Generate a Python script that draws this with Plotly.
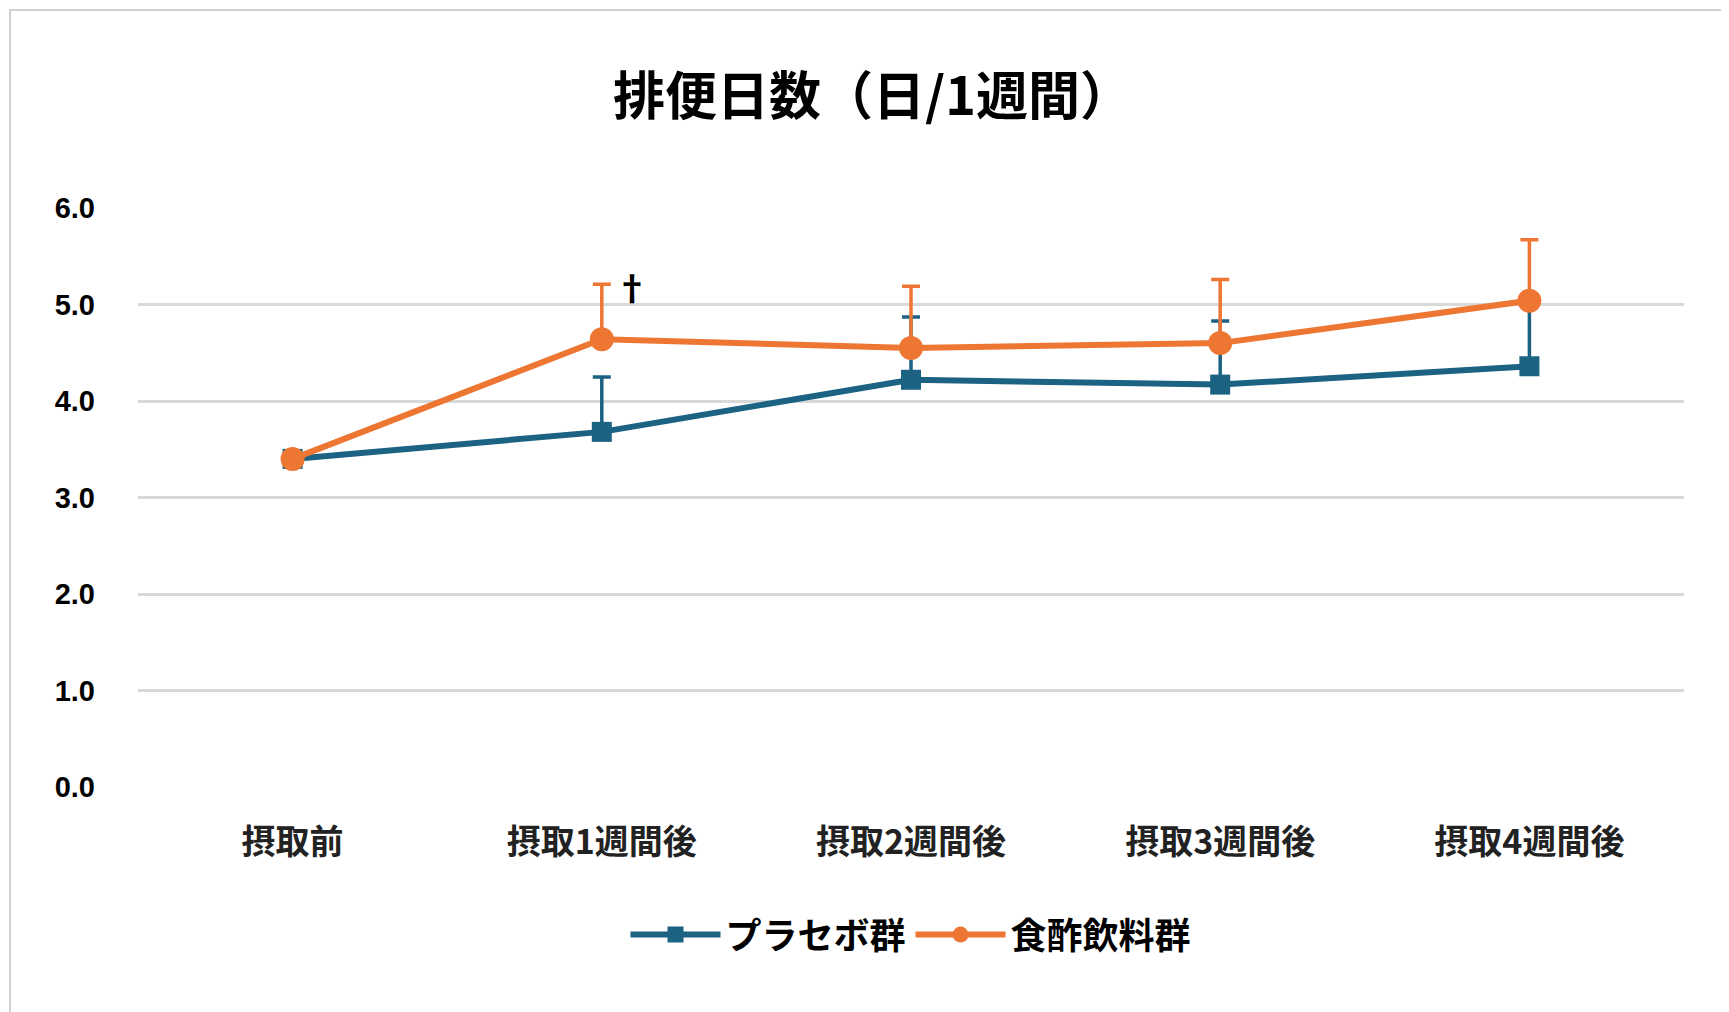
import plotly.graph_objects as go

categories = ["摂取前", "摂取1週間後", "摂取2週間後", "摂取3週間後", "摂取4週間後"]
placebo = [3.40, 3.68, 4.22, 4.17, 4.36]
placebo_err = [0.0, 0.57, 0.65, 0.66, 0.62]
vinegar = [3.40, 4.64, 4.55, 4.60, 5.04]
vinegar_err = [0.0, 0.57, 0.64, 0.66, 0.63]
yticks = [0, 1, 2, 3, 4, 5, 6]

F = "Noto Sans CJK JP"
blue = "#1b6283"
orange = "#ee7633"
W, H, L, R, T, B = 1729, 1012, 130, 53, 200, 233
pw, ph = W - L - R, H - T - B

fig = go.Figure()
fig.add_trace(go.Scatter(x=categories, y=placebo, name="プラセボ群", mode="lines+markers",
    line=dict(color=blue, width=6), marker=dict(symbol="square", size=20, color=blue),
    error_y=dict(type="data", array=placebo_err, arrayminus=[0]*5, symmetric=False,
                 color=blue, thickness=3.5, width=9)))
fig.add_trace(go.Scatter(x=categories, y=vinegar, name="食酢飲料群", mode="lines+markers",
    line=dict(color=orange, width=6), marker=dict(symbol="circle", size=24, color=orange),
    error_y=dict(type="data", array=vinegar_err, arrayminus=[0]*5, symmetric=False,
                 color=orange, thickness=3.5, width=9)))
fig.add_annotation(x=1, y=vinegar[1] + vinegar_err[1], text="<b>†</b>", showarrow=False,
                   xshift=30, yshift=-2, font=dict(family=F, size=34, color="black"))
fig.add_shape(type="rect", xref="paper", yref="paper",
              x0=(-L + 2) / pw, x1=1 + (R - 3) / pw, y0=(-B + 3) / ph, y1=1 + (T - 2) / ph,
              line=dict(color="#d0d0d0", width=2))
fig.update_layout(
    width=W, height=H, paper_bgcolor="white", plot_bgcolor="white",
    margin=dict(l=L, r=R, t=T, b=B),
    title=dict(text="<b>排便日数（日/1週間）</b>", x=0.5, xanchor="center", y=0.93,
               font=dict(family=F, size=52, color="black")),
    font=dict(family=F, color="black"),
    xaxis=dict(range=[-0.5, 4.5], showgrid=False, showline=False, ticks="",
               tickfont=dict(family=F, size=34, color="#222", weight="bold"), ticklabelstandoff=32),
    yaxis=dict(range=[0, 6], tickvals=yticks, tickformat=".1f", showgrid=True,
               gridcolor="#d9d9d9", gridwidth=2.5, zeroline=False,
               tickfont=dict(family="Liberation Sans", size=29, color="black", weight="bold"),
               ticklabelstandoff=42),
    legend=dict(orientation="h", x=0.5, xanchor="center", y=-0.255, yanchor="middle",
                font=dict(family=F, size=36, color="black", weight="bold"), itemwidth=90),
)
fig.write_html("out.html")
